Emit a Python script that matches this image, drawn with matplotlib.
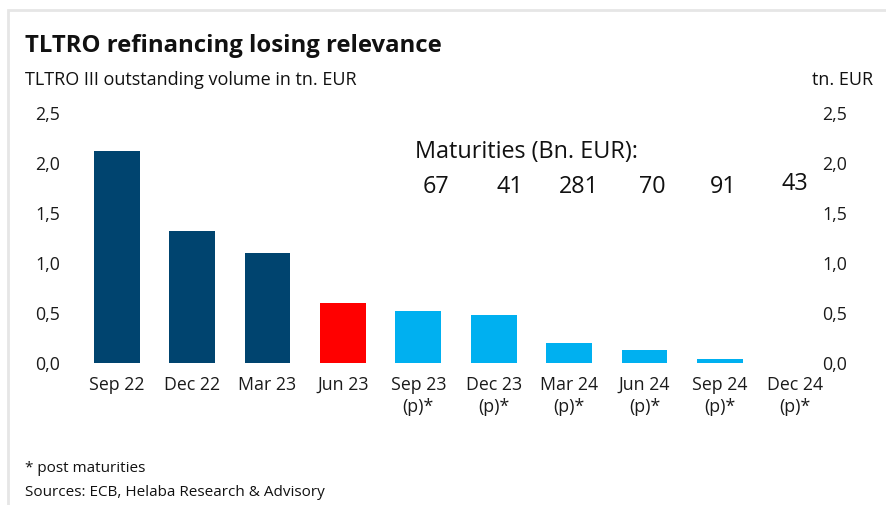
import matplotlib
matplotlib.use("Agg")
import matplotlib.pyplot as plt
from matplotlib.patches import Rectangle

plt.rcParams['font.family'] = ['Open Sans', 'DejaVu Sans']

categories = ["Sep 22", "Dec 22", "Mar 23", "Jun 23", "Sep 23\n(p)*", "Dec 23\n(p)*",
              "Mar 24\n(p)*", "Jun 24\n(p)*", "Sep 24\n(p)*", "Dec 24\n(p)*"]
volumes = [2.12, 1.32, 1.10, 0.60, 0.52, 0.48, 0.20, 0.13, 0.04, 0.0]
bar_colors = ["#00446F", "#00446F", "#00446F", "#FF0000", "#00B0F0", "#00B0F0",
              "#00B0F0", "#00B0F0", "#00B0F0", "#00B0F0"]
maturity_labels = ["67", "41", "281", "70", "91", "43"]
maturity_x = [4.24, 5.21, 6.13, 7.11, 8.05, 9.0]
maturity_y = [1.76, 1.76, 1.76, 1.76, 1.76, 1.79]
yticks = [0.0, 0.5, 1.0, 1.5, 2.0, 2.5]
ytick_labels = ["0,0", "0,5", "1,0", "1,5", "2,0", "2,5"]

W, H = 886, 505
fig = plt.figure(figsize=(W / 100, H / 100), dpi=100)
ax = fig.add_axes([79 / W, 1 - 363 / H, (833 - 79) / W, (363 - 113) / H])

x = range(len(categories))
ax.bar(x, volumes, width=0.61, color=bar_colors, edgecolor="none")
ax.set_xlim(-0.5, len(categories) - 0.5)
ax.set_ylim(0, 2.5)
ax.set_yticks(yticks)
ax.set_yticklabels(ytick_labels)
ax.set_xticks(list(x))
ax.set_xticklabels(categories, linespacing=1.3)
ax.tick_params(axis='both', length=0, labelsize=12.8, colors="#1a1a1a")
ax.tick_params(axis='y', pad=13.7)
ax.tick_params(axis='x', pad=9.5)
for s in ax.spines.values():
    s.set_visible(False)

ax2 = ax.twinx()
ax2.set_ylim(0, 2.5)
ax2.set_yticks(yticks)
ax2.set_yticklabels(ytick_labels)
ax2.tick_params(axis='y', length=0, labelsize=12.8, colors="#1a1a1a", pad=-8)
for s in ax2.spines.values():
    s.set_visible(False)

ax.text(3.95, 2.11, "Maturities (Bn. EUR):", fontsize=16.8, va="center", ha="left", color="#111111")
for lab, mx, my in zip(maturity_labels, maturity_x, maturity_y):
    ax.text(mx, my, lab, fontsize=16.8, va="center", ha="center", color="#111111")

fig.text(25 / W, 1 - 46 / H, "TLTRO refinancing losing relevance", fontsize=17.2,
         fontweight="bold", va="center", ha="left", color="#111111")
fig.text(25 / W, 1 - 80 / H, "TLTRO III outstanding volume in tn. EUR", fontsize=13,
         va="center", ha="left", color="#111111")
fig.text(873 / W, 1 - 80 / H, "tn. EUR", fontsize=13, va="center", ha="right", color="#111111")
fig.text(25 / W, 1 - 468 / H, "* post maturities", fontsize=11, va="center", ha="left", color="#111111")
fig.text(25 / W, 1 - 492 / H, "Sources: ECB, Helaba Research & Advisory", fontsize=11,
         va="center", ha="left", color="#111111")

fig.add_artist(Rectangle((8 / W, -0.1), 1.0, 1 - 10 / H + 0.1, transform=fig.transFigure,
                         fill=False, edgecolor="#E6E6E6", linewidth=2))

fig.savefig("out.png", dpi=100)
